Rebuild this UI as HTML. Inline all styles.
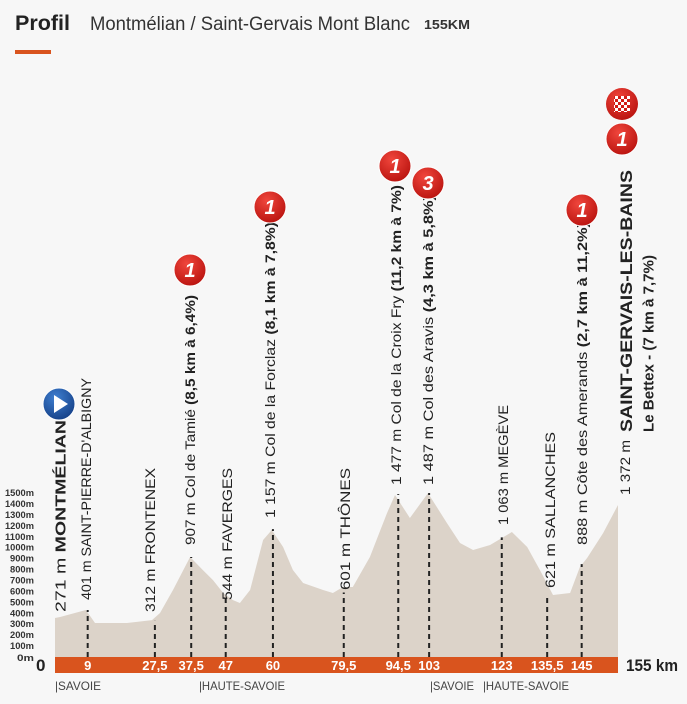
<!DOCTYPE html>
<html><head><meta charset="utf-8"><style>
html,body{margin:0;padding:0;background:#f7f7f7;}
svg{display:block;font-family:"Liberation Sans",sans-serif;}
</style></head><body>
<svg id="chart" width="687" height="704" viewBox="0 0 687 704">
<defs>
<radialGradient id="rg" cx="40%" cy="30%" r="75%"><stop offset="0" stop-color="#f0463c"/><stop offset="1" stop-color="#b8120e"/></radialGradient>
<radialGradient id="bg" cx="40%" cy="30%" r="75%"><stop offset="0" stop-color="#3f7fd0"/><stop offset="1" stop-color="#143f86"/></radialGradient>
<pattern id="chk" width="6" height="6" patternUnits="userSpaceOnUse"><rect width="6" height="6" fill="#fff"/><rect width="3" height="3" fill="#d21c16"/><rect x="3" y="3" width="3" height="3" fill="#d21c16"/></pattern>
</defs>
<rect width="687" height="704" fill="#f7f7f7"/>
<text x="15" y="30" font-size="21" font-weight="bold" fill="#222" textLength="55" lengthAdjust="spacingAndGlyphs">Profil</text>
<text x="90" y="30" font-size="19" fill="#333" textLength="320" lengthAdjust="spacingAndGlyphs">Montmélian / Saint-Gervais Mont Blanc</text>
<text x="424" y="29" font-size="13" font-weight="bold" fill="#333" textLength="46" lengthAdjust="spacingAndGlyphs">155KM</text>
<rect x="15" y="50" width="36" height="4" fill="#d9541e"/>
<g id="yaxis"></g>
<path id="profile" fill="#dcd3c9"/>
<g id="markers"></g>
<rect x="55" y="657" width="563" height="16" fill="#d9541e"/>
<g id="xlabels"></g>
<text x="36" y="671" font-size="17" font-weight="bold" fill="#222">0</text>
<text x="626" y="671" font-size="17" font-weight="bold" fill="#222" textLength="52" lengthAdjust="spacingAndGlyphs">155 km</text>
<g font-size="12" fill="#444">
<text x="55" y="690" textLength="46" lengthAdjust="spacingAndGlyphs">|SAVOIE</text>
<text x="199" y="690" textLength="86" lengthAdjust="spacingAndGlyphs">|HAUTE-SAVOIE</text>
<text x="430" y="690" textLength="44" lengthAdjust="spacingAndGlyphs">|SAVOIE</text>
<text x="483" y="690" textLength="86" lengthAdjust="spacingAndGlyphs">|HAUTE-SAVOIE</text>
</g>
<g id="labels"></g>
<g id="icons"></g>
</svg>
<script>
const profileKm=[0,1.4,8.5,11,19.8,26.7,28.9,32.5,37.2,40.7,43.5,46.3,49,50.9,53.7,57.3,59.7,62.8,65.5,68.3,73.8,76.5,79.3,82,86.7,91.4,93.6,97.7,102.7,107.9,111.5,115.1,119.8,125.8,130,133.5,137.1,141.8,144.5,146.5,150.9,155];
const profileElev=[357,366,430,311,311,338,403,613,915,796,704,586,521,494,613,1070,1162,1006,796,677,613,586,640,640,915,1317,1482,1272,1500,1226,1043,979,1025,1144,1006,796,567,586,823,906,1134,1391];
const markerKm=[9,27.5,37.5,47,60,79.5,94.5,103,123,135.5,145];
const markerKmLabels=["9","27,5","37,5","47","60","79,5","94,5","103","123","135,5","145"];
const markerElev=[430,330,915,560,1170,590,1490,1500,1095,570,850];
const yTicks=[0,100,200,300,400,500,600,700,800,900,1000,1100,1200,1300,1400,1500];
const NS="http://www.w3.org/2000/svg";
function xS(km){return 55+km*(563/155);}
function yS(m){return 657-m*0.1093;}
function mk(tag,attrs,parent){const e=document.createElementNS(NS,tag);for(const k in attrs)e.setAttribute(k,attrs[k]);parent.appendChild(e);return e;}
let d="M"+xS(0)+","+yS(0);
profileKm.forEach((k,i)=>{d+=" L"+xS(k).toFixed(1)+","+yS(profileElev[i]).toFixed(1);});
d+=" L"+xS(155)+","+yS(0)+" Z";
document.getElementById('profile').setAttribute('d',d);
const ya=document.getElementById('yaxis');
yTicks.forEach(v=>{
  const t=mk('text',{x:34,y:(v===0?yS(v)+4:yS(v)+3),'font-size':9,'font-weight':'bold','text-anchor':'end',fill:'#333',textLength:(v>=1000?29:(v===0?17:24)),lengthAdjust:'spacingAndGlyphs'},ya);
  
  
  t.textContent=v+'m';
});
const mg=document.getElementById('markers'),xl=document.getElementById('xlabels');
markerKm.forEach((k,i)=>{
  const l=mk('line',{x1:xS(k),x2:xS(k),y1:657,y2:yS(markerElev[i]),stroke:'#222','stroke-width':2,'stroke-dasharray':'5,4'},mg);
  
  
  const t=mk('text',{x:xS(k),y:670,'font-size':13,'font-weight':'bold',fill:'#fff','text-anchor':'middle'},xl);
  
  
  t.textContent=markerKmLabels[i];
});
const lg=document.getElementById('labels');
const L=[
 [60,612,420,"271 m  ","MONTMÉLIAN",15,"label-montmelian"],
 [86,600,378,"401 m  SAINT-PIERRE-D'ALBIGNY","",14,"label-saint-pierre"],
 [150,612,468,"312 m  FRONTENEX","",14,"label-frontenex"],
 [190,545,295,"907 m  Col de Tamié  ","(8,5 km à 6,4%)",14,"label-col-tamie"],
 [227,600,468,"544 m  FAVERGES","",14,"label-faverges"],
 [270,518,222,"1 157 m  Col de la Forclaz  ","(8,1 km à 7,8%)",14,"label-col-forclaz"],
 [345,590,468,"601 m  THÔNES","",14,"label-thones"],
 [396,485,185,"1 477 m  Col de la Croix Fry  ","(11,2 km à 7%)",14,"label-croix-fry"],
 [428,485,195,"1 487 m  Col des Aravis  ","(4,3 km à 5,8%)",14,"label-aravis"],
 [503,525,405,"1 063 m  MEGÈVE","",14,"label-megeve"],
 [550,588,432,"621 m  SALLANCHES","",14,"label-sallanches"],
 [582,545,222,"888 m  Côte des Amerands  ","(2,7 km à 11,2%)",14,"label-cote-amerands"],
 [625,495,440,"1 372 m","",14,"label-finish-altitude"],
 [626,432,170,"","SAINT-GERVAIS-LES-BAINS",17,"label-saint-gervais"],
 [648,432,255,"","Le Bettex - (7 km à 7,7%)",15,"label-le-bettex"]
];
L.forEach(a=>{
  const bx=a[0]+a[5]*0.36;
  const t=mk('text',{x:0,y:0,transform:`translate(${bx},${a[1]}) rotate(-90)`,'font-size':a[5],fill:'#222',textLength:a[1]-a[2],lengthAdjust:'spacingAndGlyphs'},lg);
  
  
  if(a[3]){const s=mk('tspan',{},t);s.textContent=a[3];}
  if(a[4]){const s=mk('tspan',{'font-weight':'bold'},t);s.textContent=a[4];}
});
const ig=document.getElementById('icons');
function badge(cx,cy,txt,name){
  const g=mk('g',{},ig);
  
  
  mk('circle',{cx:cx,cy:cy,r:16,fill:'url(#rg)',stroke:'#fff','stroke-width':1},g);
  const t=mk('text',{x:cx,y:cy+7,'font-size':20,'font-weight':'bold','font-style':'italic',fill:'#fff','text-anchor':'middle'},g);
  t.textContent=txt;
}
badge(190,270,"1","climb-cat-tamie");
badge(270,207,"1","climb-cat-forclaz");
badge(395,166,"1","climb-cat-croix-fry");
badge(428,183,"3","climb-cat-aravis");
badge(582,210,"1","climb-cat-amerands");
badge(622,139,"1","climb-cat-finish");
const fg=mk('g',{},ig);


mk('circle',{cx:622,cy:104,r:16,fill:'url(#rg)'},fg);
mk('rect',{x:614,y:96,width:16,height:16,fill:'url(#chk)'},fg);
const sg=mk('g',{},ig);


mk('circle',{cx:59,cy:404,r:16,fill:'url(#bg)',stroke:'#fff','stroke-width':1},sg);
mk('polygon',{points:'54,395 54,413 68,404',fill:'#fff'},sg);
</script>
</body></html>
